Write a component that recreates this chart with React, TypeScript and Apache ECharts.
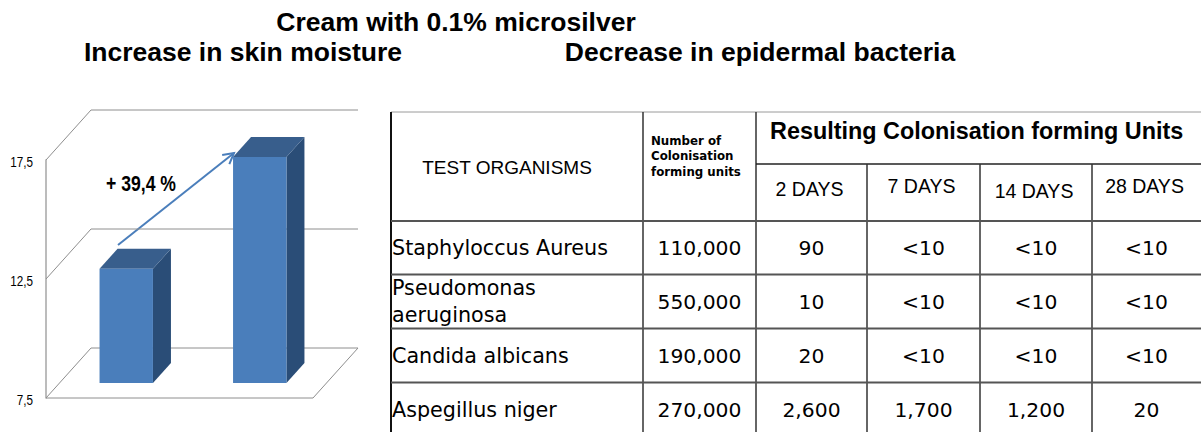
import React, { useEffect, useRef } from "react";
import * as echarts from "echarts";

// ---------- data ----------
const TITLE = "Cream with 0.1% microsilver";
const LEFT_SUBTITLE = "Increase in skin moisture";
const RIGHT_SUBTITLE = "Decrease in epidermal bacteria";

const BAR_CATEGORIES = ["Before", "After"];
const BAR_VALUES = [12.3, 17.0];
const Y_MIN = 7.5;
const Y_MAX = 17.5;
const Y_TICKS = [7.5, 12.5, 17.5];
const INCREASE_LABEL = "+ 39,4 %";

const HEAD_ORGANISMS = "TEST ORGANISMS";
const HEAD_INITIAL = "Number of\nColonisation\nforming units";
const HEAD_RESULTS = "Resulting Colonisation forming Units";
const DAY_LABELS = ["2 DAYS", "7 DAYS", "14 DAYS", "28 DAYS"];
const ORGANISMS = ["Staphyloccus Aureus", "Pseudomonas\naeruginosa", "Candida albicans", "Aspegillus niger"];
const INITIAL_CFU = ["110,000", "550,000", "190,000", "270,000"];
const DAY2 = ["90", "10", "20", "2,600"];
const DAY7 = ["<10", "<10", "<10", "1,700"];
const DAY14 = ["<10", "<10", "<10", "1,200"];
const DAY28 = ["<10", "<10", "<10", "20"];

// ---------- layout / style ----------
const DX = 45; // 3D depth offset
const DY = 50;
const FRONT_DEPTH = 0.3;
const BAR_DEPTH = 0.4;
const BAR_WIDTH = 0.4;
const C_FRONT = "#4a7ebb";
const C_TOP = "#385e8c";
const C_SIDE = "#2a4d77";
const C_GRID = "#8e8e8e";

const COL_X = [391, 643, 756, 867, 980, 1092, 1201];
const T_TOP = 112;
const T_SUB = 164;
const ROW_Y = [221, 274.5, 328.5, 382.5, 437];
const DAY_DY = [2, -1, 4, -1];

const SANS = "'Liberation Sans', Arial, sans-serif";
const BODY = "'DejaVu Sans', sans-serif";

function buildTable(): any[] {
  const els: any[] = [];
  const line = (x1: number, y1: number, x2: number, y2: number, stroke: string, w: number) =>
    els.push({ type: "line", shape: { x1, y1, x2, y2 }, style: { stroke, lineWidth: w }, silent: true });
  const text = (t: string, x: number, y: number, font: string, align: string, lh?: number) =>
    els.push({
      type: "text",
      x,
      y,
      style: { text: t, font, fill: "#000", align, verticalAlign: "middle", lineHeight: lh },
      silent: true,
    });

  // borders
  line(COL_X[0], T_TOP, COL_X[6], T_TOP, "#9a9a9a", 1);
  line(COL_X[0], T_TOP, COL_X[0], 432, "#111", 2);
  line(COL_X[1], T_TOP, COL_X[1], 432, "#333", 1.5);
  line(COL_X[2], T_TOP, COL_X[2], 432, "#333", 1.5);
  line(COL_X[2], T_SUB, COL_X[6], T_SUB, "#222", 1.5);
  for (let c = 3; c <= 5; c++) line(COL_X[c], T_SUB, COL_X[c], 432, "#333", 1.5);
  for (let r = 0; r < 4; r++) line(COL_X[0], ROW_Y[r], COL_X[6], ROW_Y[r], "#555", 2);

  // header
  text(HEAD_ORGANISMS, 507, 167, `normal 19px ${SANS}`, "center");
  text(HEAD_INITIAL, 651, 156, `bold 11.8px ${BODY}`, "left", 15.5);
  text(HEAD_RESULTS, 770, 131, `bold 23.4px ${SANS}`, "left");
  DAY_LABELS.forEach((d, i) => {
    const cx = (COL_X[2 + i] + COL_X[3 + i]) / 2 - 2;
    text(d, cx, 187 + DAY_DY[i], `normal 19.5px ${SANS}`, "center");
  });

  // body
  const cols = [INITIAL_CFU, DAY2, DAY7, DAY14, DAY28];
  ORGANISMS.forEach((name, r) => {
    const cy = r === 3 ? 410 : (ROW_Y[r] + ROW_Y[r + 1]) / 2;
    text(name, COL_X[0] + 1, cy, `normal 20.7px ${BODY}`, "left", 27);
    cols.forEach((col, c) => {
      const cx = (COL_X[1 + c] + COL_X[2 + c]) / 2;
      text(col[r], cx, cy, `normal 20.3px ${BODY}`, "center");
    });
  });
  return els;
}

function buildArrow(): any[] {
  const x1 = 118, y1 = 245, x2 = 234, y2 = 153;
  const ang = Math.atan2(y2 - y1, x2 - x1);
  const L = 12;
  const a1 = ang + Math.PI - 0.5;
  const a2 = ang + Math.PI + 0.5;
  const st = { stroke: C_FRONT, lineWidth: 2 };
  return [
    { type: "line", shape: { x1, y1, x2, y2 }, style: st },
    {
      type: "polyline",
      shape: { points: [[x2 + L * Math.cos(a1), y2 + L * Math.sin(a1)], [x2, y2], [x2 + L * Math.cos(a2), y2 + L * Math.sin(a2)]] },
      style: { ...st, fill: "none" },
    },
    {
      type: "text",
      x: 141,
      y: 183,
      scaleX: 0.8,
      originX: 0,
      style: { text: INCREASE_LABEL, font: `bold 22px ${SANS}`, fill: "#000", align: "center", verticalAlign: "middle" },
    },
  ];
}

export default function App() {
  const ref = useRef<HTMLDivElement>(null);
  useEffect(() => {
    if (!ref.current) return;
    const chart = echarts.init(ref.current, undefined, { renderer: "svg" });
    chart.setOption({
      animation: false,
      backgroundColor: "#fff",
      grid: { left: 46, top: 160, width: 267, height: 238 },
      xAxis: {
        type: "category",
        data: BAR_CATEGORIES,
        axisLine: { show: false },
        axisTick: { show: false },
        axisLabel: { show: false },
        splitLine: { show: false },
      },
      yAxis: {
        type: "value",
        min: Y_MIN,
        max: Y_MAX,
        interval: 2.5,
        axisLine: { show: true, lineStyle: { color: "#a6a6a6", width: 1.5 } },
        axisTick: { show: false },
        splitLine: { show: false },
        axisLabel: { show: false },
      },
      series: [
        {
          type: "custom",
          silent: true,
          z: 1,
          data: Y_TICKS.map((v) => [0, v]),
          renderItem: (params: any, api: any) => {
            const cs = params.coordSys;
            const v = api.value(1);
            const y = api.coord([0, v])[1];
            const L = cs.x;
            const R = cs.x + cs.width;
            const st = { stroke: C_GRID, lineWidth: 1 };
            const children: any[] = [
              { type: "line", shape: { x1: L, y1: y, x2: L + DX, y2: y - DY }, style: st },
              { type: "line", shape: { x1: L + DX, y1: y - DY, x2: R + DX, y2: y - DY }, style: st },
              {
                type: "text",
                x: L - 13,
                y: y + 2,
                scaleX: 0.78,
                style: {
                  text: String(v).replace(".", ","),
                  font: `normal 15px ${SANS}`,
                  fill: "#000",
                  align: "right",
                  verticalAlign: "middle",
                },
              },
            ];
            if (v === Y_MIN) {
              children.push({ type: "line", shape: { x1: L, y1: y, x2: R, y2: y }, style: st });
              children.push({ type: "line", shape: { x1: R, y1: y, x2: R + DX, y2: y - DY }, style: st });
            }
            return { type: "group", children };
          },
        },
        {
          type: "custom",
          z: 2,
          data: BAR_VALUES.map((v, i) => [i, v]),
          renderItem: (params: any, api: any) => {
            const idx = api.value(0);
            const v = api.value(1);
            const base = api.coord([idx, Y_MIN]);
            const top = api.coord([idx, v]);
            const band = api.size([1, 0])[0];
            const w = band * BAR_WIDTH;
            const x0 = base[0] - w / 2 + DX * FRONT_DEPTH;
            const x1 = x0 + w;
            const yb = base[1] - DY * FRONT_DEPTH;
            const yt = top[1] - DY * FRONT_DEPTH;
            const ddx = DX * BAR_DEPTH;
            const ddy = DY * BAR_DEPTH;
            return {
              type: "group",
              children: [
                {
                  type: "polygon",
                  shape: { points: [[x1, yt], [x1 + ddx, yt - ddy], [x1 + ddx, yb - ddy], [x1, yb]] },
                  style: { fill: C_SIDE },
                },
                {
                  type: "polygon",
                  shape: { points: [[x0, yt], [x0 + ddx, yt - ddy], [x1 + ddx, yt - ddy], [x1, yt]] },
                  style: { fill: C_TOP },
                },
                { type: "rect", shape: { x: x0, y: yt, width: w, height: yb - yt }, style: { fill: C_FRONT } },
              ],
            };
          },
        },
      ],
      graphic: [
        {
          type: "text",
          x: 456,
          y: 22,
          style: { text: TITLE, font: `bold 26.5px ${SANS}`, fill: "#000", align: "center", verticalAlign: "middle" },
        },
        {
          type: "text",
          x: 243,
          y: 52,
          style: { text: LEFT_SUBTITLE, font: `bold 26.5px ${SANS}`, fill: "#000", align: "center", verticalAlign: "middle" },
        },
        {
          type: "text",
          x: 760,
          y: 52,
          style: { text: RIGHT_SUBTITLE, font: `bold 26.5px ${SANS}`, fill: "#000", align: "center", verticalAlign: "middle" },
        },
        ...buildArrow(),
        ...buildTable(),
      ],
    });
    return () => chart.dispose();
  }, []);
  return <div ref={ref} style={{ position: "absolute", left: 0, top: 0, width: 1201, height: 432 }} />;
}
